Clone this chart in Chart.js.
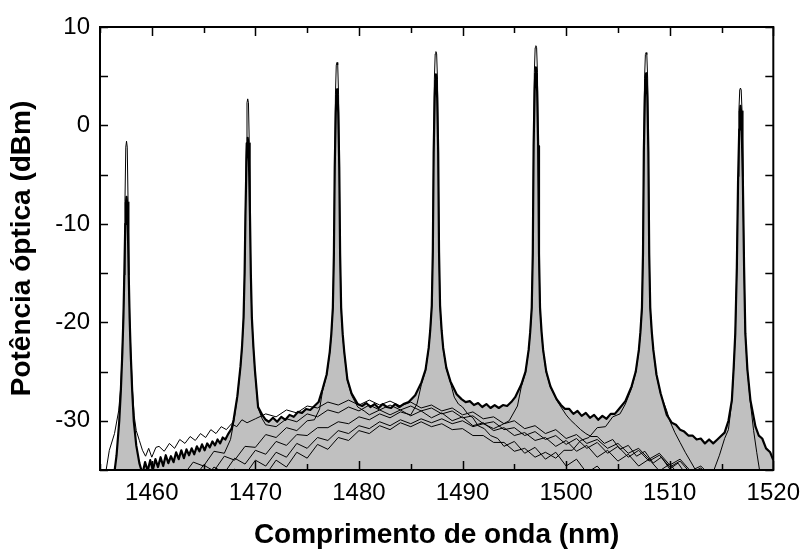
<!DOCTYPE html>
<html>
<head>
<meta charset="utf-8">
<script src="https://cdn.jsdelivr.net/npm/chart.js@4.4.0/dist/chart.umd.min.js"></script>
<style>
  html, body { margin: 0; padding: 0; background: #fff; }
</style>
</head>
<body>
<canvas id="spectrum" width="809" height="551"></canvas>
<script>
// axis ticks
const xTickLabels = [1460, 1470, 1480, 1490, 1500, 1510, 1520];
const xTickMarks = [1455, 1460, 1465, 1470, 1475, 1480, 1485, 1490, 1495, 1500, 1505, 1510, 1515, 1520];
const yTickLabels = [-30, -20, -10, 0, 10];
const yTickMarks = [-35, -30, -25, -20, -15, -10, -5, 0, 5, 10];

// all channels together (thick line, grey area) : [nm, dBm]
const totalSpectrum = [
  [1456.3,-36],[1456.6,-33.5],[1456.86,-30],[1457.01,-27],[1457.16,-23],[1457.26,-19.5],[1457.34,-15.5],[1457.44,-10],[1457.5,-7.9],[1457.56,-7.25],[1457.62,-7.9],[1457.68,-10],[1457.78,-15.5],[1457.86,-19.5],[1457.96,-23],[1458.11,-27],[1458.26,-30],[1458.5,-32.5],[1458.8,-34.3],
  [1459.1,-35.4],[1459.35,-34.2],[1459.6,-35.1],[1459.85,-34.0],[1460.1,-35.0],[1460.35,-33.9],[1460.6,-34.7],[1460.85,-33.7],[1461.1,-34.6],[1461.35,-33.5],[1461.6,-34.3],[1461.85,-33.6],[1462.1,-34.2],[1462.35,-33.2],[1462.6,-33.9],[1462.85,-33.0],[1463.1,-33.8],[1463.35,-32.9],[1463.6,-33.5],[1463.85,-32.8],[1464.1,-33.4],[1464.35,-32.6],[1464.6,-33.1],[1464.85,-32.4],[1465.1,-33.0],[1465.35,-32.3],[1465.6,-32.7],[1465.85,-32.1],[1466.1,-32.5],[1466.35,-31.9],[1466.6,-32.3],[1466.85,-31.7],[1467.1,-31.9],[1467.4,-31.3],[1467.7,-30.8],
  [1467.9,-29.9],[1468.26,-27.5],[1468.56,-24.5],[1468.71,-22.5],[1468.86,-19.5],[1468.96,-15],[1469.04,-9.2],[1469.14,-3.6],[1469.2,-1.85],[1469.26,-1.25],[1469.32,-1.85],[1469.38,-3.6],[1469.48,-9.2],[1469.56,-15],[1469.66,-19.5],[1469.81,-22.5],[1469.96,-24.9],[1470.26,-28.6],[1470.66,-29.4],[1471.0,-29.9],[1471.3,-30.1],[1471.7,-29.7],[1472.1,-30.1],[1472.5,-29.6],[1472.9,-29.9],[1473.3,-29.4],[1473.7,-29.6],[1474.1,-29.1],[1474.5,-29.2],[1474.9,-28.8],[1475.3,-28.9],[1475.7,-28.5],
  [1476.1,-28.1],[1476.48,-26.8],[1476.88,-25.3],[1477.18,-23],[1477.33,-21.2],[1477.48,-18.5],[1477.58,-13],[1477.66,-4.3],[1477.76,1.3],[1477.82,3.1],[1477.88,3.67],[1477.94,3.1],[1478.0,1.3],[1478.1,-4.3],[1478.18,-13],[1478.28,-18.5],[1478.43,-21.2],[1478.58,-23],[1478.88,-25.8],[1479.28,-27.2],[1479.88,-28.3],[1480.3,-28.5],[1480.7,-28.2],[1481.1,-28.6],[1481.5,-28.3],[1481.9,-28.7],[1482.3,-28.3],[1482.7,-28.6],[1483.1,-28.7],[1483.5,-28.3],[1483.9,-28.6],[1484.3,-28.3],[1484.8,-28.1],
  [1485.43,-27.4],[1486.03,-26.1],[1486.43,-24.8],[1486.73,-22.6],[1486.88,-20.8],[1487.03,-18.3],[1487.13,-12.8],[1487.21,-2.8],[1487.31,2.8],[1487.37,4.6],[1487.43,5.2],[1487.49,4.6],[1487.55,2.8],[1487.65,-2.8],[1487.73,-12.8],[1487.83,-18.3],[1487.98,-20.8],[1488.13,-22.6],[1488.43,-24.6],[1488.83,-26.0],[1489.43,-27.3],[1489.9,-27.8],[1490.3,-28.1],[1490.7,-28.0],[1491.1,-28.4],[1491.5,-28.2],[1491.9,-28.6],[1492.3,-28.3],[1492.7,-28.7],[1493.1,-28.4],[1493.5,-28.7],[1493.9,-28.4],[1494.3,-28.5],[1494.7,-28.1],
  [1495.08,-27.6],[1495.68,-26.3],[1496.08,-25.0],[1496.38,-22.8],[1496.53,-21.0],[1496.68,-18.5],[1496.78,-13],[1496.86,-2.1],[1496.96,3.5],[1497.02,5.3],[1497.08,5.9],[1497.14,5.3],[1497.2,3.5],[1497.3,-2.1],[1497.38,-13],[1497.48,-18.5],[1497.63,-21],[1497.78,-22.8],[1498.08,-25],[1498.48,-26.5],[1499.08,-27.8],[1499.5,-28.4],[1499.9,-28.8],[1500.3,-28.8],[1500.7,-29.3],[1501.1,-29.0],[1501.5,-29.5],[1501.9,-29.2],[1502.3,-29.7],[1502.7,-29.4],[1503.1,-29.9],[1503.5,-29.5],[1503.9,-29.8],[1504.3,-29.3],[1504.7,-29.3],[1505.1,-28.8],
  [1505.72,-28.0],[1506.32,-26.5],[1506.72,-25.0],[1507.02,-22.8],[1507.17,-21],[1507.32,-18.5],[1507.42,-13],[1507.5,-2.7],[1507.6,2.9],[1507.66,4.7],[1507.72,5.3],[1507.78,4.7],[1507.84,2.9],[1507.94,-2.7],[1508.02,-13],[1508.12,-18.5],[1508.27,-21],[1508.42,-22.8],[1508.72,-25.3],[1509.12,-27.2],[1509.72,-29.4],[1510.2,-30.2],[1510.6,-30.4],[1511.0,-30.9],[1511.4,-31.1],[1511.8,-31.5],[1512.2,-31.5],[1512.6,-31.9],[1513.0,-31.8],[1513.4,-32.3],[1513.8,-31.9],[1514.2,-32.3],[1514.6,-31.9],[1514.9,-31.6],
  [1515.3,-31.2],[1515.67,-30.0],[1516.0,-27.9],[1516.18,-24.5],[1516.33,-21.1],[1516.48,-14.4],[1516.6,-5.5],[1516.71,-0.4],[1516.77,1.4],[1516.83,2.0],[1516.89,1.4],[1516.95,-0.4],[1517.06,-5.5],[1517.18,-14.4],[1517.3,-21.1],[1517.5,-24.8],[1517.79,-27.9],[1518.28,-30.6],[1518.6,-31.5],[1518.93,-31.8],[1519.3,-32.8],[1519.7,-33.2],[1520,-34]
];

// single channels (thin lines) : [nm, dBm]
const channel1 = [
  [1455.5,-35.6],[1455.9,-33],[1456.4,-31.3],[1456.8,-29],[1457.01,-26.5],[1457.16,-22.5],[1457.26,-19],[1457.34,-15.2],[1457.41,-7.75],[1457.49,-2.2],[1457.56,-1.6],[1457.63,-2.2],[1457.71,-7.75],[1457.78,-15.2],[1457.86,-19],[1457.96,-22.5],[1458.11,-26.5],[1458.3,-29.5],[1458.5,-31.0],[1458.8,-32.0],[1459.1,-33.0],[1459.4,-33.6],[1459.7,-32.8],[1460.0,-33.7],[1460.4,-32.7],
  [1460.7,-32.6],[1461.2,-33.1],[1461.7,-32.3],[1462.2,-32.8],[1462.7,-31.9],[1463.2,-32.3],[1463.7,-31.6],[1464.2,-32.0],[1464.7,-31.3],[1465.2,-31.7],[1465.7,-30.9],[1466.2,-31.3],[1466.7,-30.6],[1467.2,-30.9],[1467.7,-30.3],[1468.2,-30.6],[1468.7,-29.9],[1469.2,-30.2],[1470,-29.8],[1471,-29.3],[1472,-29.6],[1473,-28.9],[1474,-29.2],[1475,-28.5],[1476,-28.7],[1477,-28.1],[1478,-28.4],[1479,-27.9],[1480,-28.4],[1481,-27.9],[1482,-28.4],[1483,-28.0],[1484,-28.5],[1485,-28.1],[1486,-28.7],[1487,-28.4],[1488,-29.0],[1489,-28.7],[1490,-29.4],[1491,-29.1],[1492,-29.8],[1493,-29.6],[1494,-30.3],[1495,-30.0],[1496,-30.8],[1497,-30.5],[1498,-31.3],[1499,-30.9],[1500,-31.8],[1501,-31.4],[1502,-32.3],[1503,-31.9],[1504,-32.8],[1505,-32.3],[1506,-33.3],[1507,-32.8],[1508,-33.9],[1509,-33.3],[1510,-34.5],[1511,-33.9],[1512,-35.1],[1513,-34.6],[1514,-35.6]
];
const channel2 = [
  [1461,-36.2],[1462,-35.1],[1463,-35.6],[1464,-34.2],[1465,-34.6],[1466,-33.1],[1467,-33.3],[1467.6,-31.9],
  [1467.9,-30.2],[1468.26,-27.6],[1468.56,-24.6],[1468.71,-22.6],[1468.86,-19.6],[1468.96,-15.1],[1469.04,-8.9],[1469.11,-1.75],[1469.19,2.3],[1469.26,2.7],[1469.33,2.3],[1469.41,-1.75],[1469.48,-8.9],[1469.56,-15.1],[1469.66,-19.6],[1469.81,-22.6],[1469.96,-25.0],[1470.26,-28.7],[1470.66,-29.8],
  [1471,-30.4],[1472,-30.6],[1473,-29.8],[1474,-30.1],[1475,-29.3],[1476,-29.6],[1477,-28.9],[1478,-29.2],[1479,-28.6],[1480,-29.0],[1481,-28.4],[1482,-28.9],[1483,-28.4],[1484,-28.9],[1485,-28.5],[1486,-29.0],[1487,-28.7],[1488,-29.3],[1489,-29.0],[1490,-29.7],[1491,-29.5],[1492,-30.3],[1493,-30.1],[1494,-30.9],[1495,-30.7],[1496,-31.5],[1497,-31.1],[1498,-31.9],[1499,-31.5],[1500,-32.4],[1501,-31.8],[1502,-32.8],[1503,-32.2],[1504,-33.3],[1505,-32.6],[1506,-33.7],[1507,-33.0],[1508,-34.1],[1509,-33.5],[1510,-34.7],[1511,-34.1],[1512,-35.3],[1513,-34.8],[1514,-35.8]
];
const channel3 = [
  [1462,-36.2],[1463,-35.2],[1464,-35.9],[1465,-34.5],[1466,-35.1],[1467,-33.6],[1468,-34.0],[1469,-32.6],[1470,-32.7],[1471,-31.4],[1472,-31.7],[1473,-30.7],[1474,-31.0],[1475,-30.0],[1475.7,-29.9],[1476.2,-28.8],
  [1476.48,-27.0],[1476.88,-25.4],[1477.18,-23.1],[1477.33,-21.3],[1477.48,-18.6],[1477.58,-13.1],[1477.66,-4.0],[1477.73,3.17],[1477.81,6.13],[1477.88,6.4],[1477.95,6.13],[1478.03,3.17],[1478.1,-4.0],[1478.18,-13.1],[1478.28,-18.6],[1478.43,-21.3],[1478.58,-23.1],[1478.88,-25.9],[1479.28,-27.4],[1479.88,-28.6],[1480.5,-29.0],
  [1481,-29.4],[1482,-28.9],[1483,-29.4],[1484,-28.9],[1485,-29.5],[1486,-29.0],[1487,-29.7],[1488,-29.2],[1489,-30.0],[1490,-29.6],[1491,-30.5],[1492,-30.2],[1493,-31.0],[1494,-30.7],[1495,-31.5],[1496,-31.2],[1497,-32.0],[1498,-31.7],[1499,-32.6],[1500,-32.0],[1501,-33.1],[1502,-32.5],[1503,-33.7],[1504,-33.0],[1505,-34.1],[1506,-33.4],[1507,-34.6],[1508,-33.9],[1509,-35.1],[1510,-34.4],[1511,-35.6],[1512,-35.0],[1513,-36]
];
const channel4 = [
  [1463,-36.3],[1464,-35.5],[1465,-36.1],[1466,-34.7],[1467,-35.3],[1468,-33.8],[1469,-34.4],[1470,-33.0],[1471,-33.4],[1472,-32.1],[1473,-32.5],[1474,-31.4],[1475,-31.5],[1476,-30.7],[1477,-30.7],[1478,-30.1],[1479,-30.3],[1480,-29.6],[1481,-29.9],[1482,-29.3],[1483,-29.7],[1484,-29.1],[1485,-29.4],[1485.6,-28.3],
  [1486.03,-26.3],[1486.43,-24.9],[1486.73,-22.7],[1486.88,-20.9],[1487.03,-18.4],[1487.13,-12.9],[1487.21,-2.5],[1487.28,4.7],[1487.36,7.27],[1487.43,7.5],[1487.5,7.27],[1487.58,4.7],[1487.65,-2.5],[1487.73,-12.9],[1487.83,-18.4],[1487.98,-20.9],[1488.13,-22.7],[1488.43,-24.7],[1488.83,-26.1],
  [1489.2,-27.6],[1489.6,-28.3],[1490.0,-28.6],[1490.5,-29.3],[1491.0,-29.7],[1491.5,-30.5],[1492.1,-30.8],[1492.7,-31.5],[1493.4,-31.8],[1494,-32.6],[1495,-32.1],[1496,-33.3],[1497,-32.7],[1498,-33.9],[1499,-33.2],[1500,-34.6],[1501,-33.9],[1502,-35.3],[1503,-34.6],[1504,-35.8]
];
const channel5 = [
  [1465,-36.4],[1466,-35.5],[1467,-36.2],[1468,-34.9],[1469,-35.5],[1470,-34.0],[1471,-34.6],[1472,-33.2],[1473,-33.7],[1474,-32.3],[1475,-32.8],[1476,-31.7],[1477,-32.0],[1478,-31.0],[1479,-31.3],[1480,-30.5],[1481,-30.8],[1482,-30.1],[1483,-30.5],[1484,-29.9],[1485,-30.3],[1486,-29.8],[1487,-30.2],[1488,-29.8],[1489,-30.3],[1490,-30.0],[1491,-30.6],[1492,-30.3],[1493,-30.8],[1493.8,-30.4],[1494.5,-30.0],[1495.3,-28.5],
  [1495.68,-26.5],[1496.08,-25.1],[1496.38,-22.9],[1496.53,-21.1],[1496.68,-18.6],[1496.78,-13.1],[1496.86,-1.8],[1496.93,5.4],[1497.01,7.9],[1497.08,8.1],[1497.15,7.9],[1497.23,5.4],[1497.3,-2.1],[1497.38,-13.1],[1497.48,-18.6],[1497.63,-21.1],[1497.78,-22.9],[1498.08,-25.1],[1498.48,-26.6],[1499.08,-27.9],
  [1499.5,-28.6],[1500.0,-29.4],[1500.4,-29.9],[1500.9,-30.4],[1501.4,-30.9],[1501.9,-31.3],[1502.4,-31.6],[1503,-31.6],[1503.7,-32.3],[1504.5,-31.9],[1505.2,-32.9],[1506,-32.5],[1506.8,-33.6],[1507.6,-33.1],[1508.4,-34.3],[1509.2,-33.7],[1510,-34.9],[1510.8,-34.3],[1511.6,-35.5],[1512.4,-35.1],[1513.2,-36]
];
const channel6 = [
  [1467,-36.4],[1468,-35.6],[1469,-36.2],[1470,-34.9],[1471,-35.5],[1472,-34.0],[1473,-34.7],[1474,-33.2],[1475,-33.8],[1476,-32.4],[1477,-32.9],[1478,-31.7],[1479,-32.0],[1480,-31.0],[1481,-31.3],[1482,-30.5],[1483,-30.9],[1484,-30.2],[1485,-30.6],[1486,-30.1],[1487,-30.6],[1488,-30.3],[1489,-30.9],[1490,-30.8],[1491,-31.5],[1492,-31.5],[1493,-32.2],[1494,-32.2],[1495,-33.1],[1496,-32.8],[1497,-33.7],[1498,-33.2],[1499,-33.8],[1499.8,-33.0],[1500.6,-33.0],[1501.4,-32.0],[1502.2,-31.7],[1503,-30.7],[1503.8,-30.6],[1504.5,-29.6],[1505.2,-29.3],
  [1505.72,-28.3],[1506.32,-26.7],[1506.72,-25.1],[1507.02,-22.9],[1507.17,-21.1],[1507.32,-18.6],[1507.42,-13.1],[1507.5,-2.4],[1507.57,4.8],[1507.65,7.2],[1507.72,7.4],[1507.79,7.2],[1507.87,4.8],[1507.94,-2.4],[1508.02,-13.1],[1508.12,-18.6],[1508.27,-21.1],[1508.42,-22.9],[1508.72,-25.4],[1509.12,-27.3],[1509.72,-29.0],
  [1510.0,-30.0],[1510.5,-31.2],[1511.0,-32.2],[1511.5,-33.2],[1512.0,-34.1],[1512.6,-35.2]
];
const channel7 = [
  [1514.2,-35.2],[1514.8,-33.5],[1515.3,-31.8],[1515.67,-30.9],[1516.0,-28.0],[1516.18,-24.6],[1516.33,-21.2],[1516.48,-14.5],[1516.6,-5.2],[1516.68,1.5],[1516.76,3.6],[1516.83,3.8],[1516.9,3.6],[1516.98,1.5],[1517.06,-5.2],[1517.18,-14.5],[1517.3,-21.2],[1517.5,-24.9],[1517.79,-28.2],[1518.1,-31.0],[1518.4,-33.2],[1518.7,-35.2]
];

const channels = [channel1, channel2, channel3, channel4, channel5, channel6, channel7];
const toPoints = arr => arr.map(p => ({ x: p[0], y: p[1] }));

const fontFamily = "'Liberation Sans', Arial, sans-serif";

// ticks pointing inwards on the four sides + frame
const frameTicks = {
  id: 'frameTicks',
  afterDatasetsDraw(chart) {
    const { ctx, chartArea: a, scales: { x, y } } = chart;
    ctx.save();
    ctx.strokeStyle = '#000';
    ctx.lineWidth = 1.5;
    ctx.beginPath();
    xTickMarks.forEach(v => {
      const px = Math.round(x.getPixelForValue(v)) + 0.5;
      const len = v % 10 === 0 ? 9 : 6;
      ctx.moveTo(px, a.bottom); ctx.lineTo(px, a.bottom - len);
      ctx.moveTo(px, a.top); ctx.lineTo(px, a.top + len);
    });
    yTickMarks.forEach(v => {
      const py = Math.round(y.getPixelForValue(v)) + 0.5;
      ctx.moveTo(a.left, py); ctx.lineTo(a.left + 8, py);
      ctx.moveTo(a.right, py); ctx.lineTo(a.right - 8, py);
    });
    ctx.stroke();
    ctx.lineWidth = 2;
    ctx.strokeRect(a.left, a.top, a.right - a.left, a.bottom - a.top);
    ctx.restore();
  }
};

const datasets = [{
  data: toPoints(totalSpectrum),
  borderColor: '#000',
  borderWidth: 2.2,
  backgroundColor: '#c0c0c0',
  fill: 'start',
  order: 0
}];
channels.forEach(ch => {
  datasets.push({
    data: toPoints(ch),
    borderColor: '#000',
    borderWidth: 1,
    fill: false,
    order: 1
  });
});

new Chart(document.getElementById('spectrum'), {
  type: 'line',
  data: { datasets },
  options: {
    responsive: false,
    animation: false,
    devicePixelRatio: 1,
    clip: 0,
    layout: { padding: { top: 27, right: 32, left: 0, bottom: 0 } },
    elements: {
      point: { radius: 0 },
      line: { tension: 0, borderJoinStyle: 'round' }
    },
    plugins: {
      legend: { display: false },
      tooltip: { enabled: false },
      filler: { drawTime: 'beforeDatasetsDraw' }
    },
    scales: {
      x: {
        type: 'linear',
        min: 1455,
        max: 1520,
        grid: { display: false, drawTicks: false },
        border: { display: false },
        afterBuildTicks: s => { s.ticks = xTickLabels.map(v => ({ value: v })); },
        afterFit: s => { s.height = 81; },
        ticks: {
          color: '#000',
          font: { family: fontFamily, size: 24 },
          padding: 9,
          maxRotation: 0,
          autoSkip: false,
          callback: v => String(v)
        },
        title: {
          display: true,
          text: 'Comprimento de onda (nm)',
          color: '#000',
          font: { family: fontFamily, size: 28, weight: 'bold' },
          padding: { top: 0, bottom: -1 }
        }
      },
      y: {
        min: -35,
        max: 10,
        grid: { display: false, drawTicks: false },
        border: { display: false },
        afterBuildTicks: s => { s.ticks = yTickLabels.map(v => ({ value: v })); },
        afterFit: s => { s.width = 100; },
        ticks: {
          color: '#000',
          font: { family: fontFamily, size: 24 },
          padding: 10,
          callback: v => String(v)
        },
        title: {
          display: true,
          text: 'Potência óptica (dBm)',
          color: '#000',
          font: { family: fontFamily, size: 28, weight: 'bold' },
          padding: { top: 5, bottom: 0 }
        }
      }
    }
  },
  plugins: [frameTicks]
});
</script>
</body>
</html>
